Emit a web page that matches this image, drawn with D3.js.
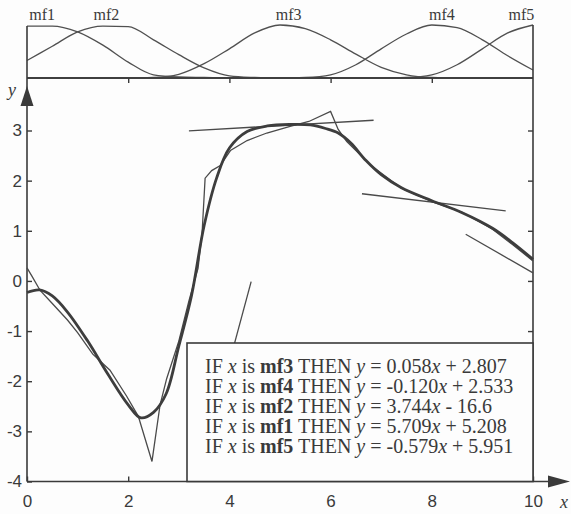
<!DOCTYPE html>
<html>
<head>
    <meta charset="UTF-8">
    <title></title>
    <script src="https://cdn.jsdelivr.net/npm/d3@7/dist/d3.min.js"></script>
    <style>
        body{
            padding: 0;
            margin: 0;
            background: #fdfdfd;
        }
        .axis path{
            display: none;
        }
        .axis line{
            stroke: #3a3a3a;
            stroke-width: 1.4px;
        }
        .axis text{
            font-family: "Liberation Sans", Arial, sans-serif;
            font-size: 17px;
            fill: #3a3a3a;
        }
        .frame{
            stroke: #3a3a3a;
            stroke-width: 1.6px;
            fill: none;
        }
    </style>
</head>
<body>
<div class="first"></div>

<script>

    // membership functions, read every 0.5 on x
    var mfX  = [0,0.5,1,1.5,2,2.5,3,3.5,4,4.5,5,5.5,6,6.5,7,7.5,8,8.5,9,9.5,10];
    var mf1  = [0.98,0.98,0.87,0.62,0.30,0.06,0.02,0.01,0,0,0,0,0,0,0,0,0,0,0,0,0];
    var mf2  = [0.33,0.60,0.87,0.98,0.97,0.72,0.44,0.19,0.04,0.01,0,0,0,0,0,0,0,0,0,0,0];
    var mf3  = [0,0,0,0,0,0.01,0.07,0.27,0.55,0.85,1.0,0.93,0.72,0.45,0.20,0.06,0.01,0,0,0,0];
    var mf4  = [0,0,0,0,0,0,0,0,0,0,0,0.01,0.06,0.25,0.55,0.83,1.0,0.95,0.72,0.42,0.15];
    var mf5  = [0,0,0,0,0,0,0,0,0,0,0,0,0,0,0,0.01,0.06,0.25,0.55,0.85,1.0];
    var mfNames = ["mf1","mf2","mf3","mf4","mf5"];
    var mfLabelX = [0.3,1.57,5.17,8.2,9.77];

    // fuzzy model output (thick)
    var fitX = [0,0.25,0.5,0.8,1.2,1.6,2.0,2.25,2.5,2.75,3.0,3.25,3.5,3.75,4.0,4.35,4.75,5.2,5.6,5.9,6.15,6.4,6.7,7.0,7.4,8.0,8.6,9.2,9.6,10];
    var fitY = [-0.23,-0.18,-0.3,-0.62,-1.2,-1.86,-2.47,-2.73,-2.62,-2.25,-1.3,-0.3,1.1,2.06,2.65,2.98,3.09,3.12,3.11,3.04,2.95,2.75,2.4,2.12,1.86,1.6,1.36,1.05,0.76,0.43];

    // original function (thin)
    var orgX = [0,0.1,0.26,0.5,0.8,1.0,1.3,1.64,1.97,2.2,2.47,2.63,2.76,3.0,3.2,3.38,3.46,3.52,3.65,3.82,4.02,4.35,4.74,5.2,5.57,6.0,6.15,6.32,6.5,6.8,7.4,8.0,8.6,9.2,9.6,10];
    var orgY = [0.26,0.09,-0.19,-0.45,-0.78,-1.03,-1.46,-1.78,-2.3,-2.7,-3.6,-2.47,-1.95,-1.2,-0.4,0.25,0.95,2.05,2.2,2.3,2.6,2.8,2.95,3.08,3.18,3.38,3.02,2.78,2.6,2.3,1.85,1.58,1.37,1.03,0.72,0.4];

    // rules: y = a*x + b, drawn between x0 and x1
    var ruleMf = ["mf3","mf4","mf2","mf1","mf5"];
    var ruleA  = [0.058,-0.120,3.744,5.709,-0.579];
    var ruleB  = [2.807,2.533,-16.6,5.208,5.951];
    var ruleX0 = [3.2,6.62,3.9,null,8.67];
    var ruleX1 = [6.85,9.46,4.43,null,10];

    var xTicks = [0,2,4,6,8,10];
    var yTicks = [-4,-3,-2,-1,0,1,2,3];

    var svg = d3.select(".first")
        .append("svg")
        .attr("width",571)
        .attr("height",514);

    var x = d3.scaleLinear().domain([0,10]).range([27,533]);
    var y = d3.scaleLinear().domain([-4,3]).range([481.5,130.5]);
    var m = d3.scaleLinear().domain([0,1]).range([78,25]);

    // top panel: membership functions
    var mfLine = d3.line()
        .x(function(d,i){ return x(mfX[i]); })
        .y(function(d){ return m(d); })
        .curve(d3.curveMonotoneX);

    svg.selectAll(".mf")
        .data([mf1,mf2,mf3,mf4,mf5])
        .enter()
        .append("path")
        .attr("class","mf")
        .attr("d",mfLine)
        .attr("fill","none")
        .attr("stroke","#505050")
        .attr("stroke-width",1.3);

    svg.selectAll(".mfLabel")
        .data(mfNames)
        .enter()
        .append("text")
        .attr("class","mfLabel")
        .attr("x",function(d,i){ return x(mfLabelX[i]); })
        .attr("y",20)
        .attr("text-anchor","middle")
        .style("font-family","'Liberation Serif', serif")
        .style("font-size","16px")
        .style("fill","#3a3a3a")
        .text(function(d){ return d; });

    // frame lines
    svg.append("line").attr("class","frame")
        .attr("x1",x(0)).attr("x2",x(0)).attr("y1",m(0.98)).attr("y2",y(-4));
    svg.append("line").attr("class","frame")
        .attr("x1",x(10)).attr("x2",x(10)).attr("y1",m(1)).attr("y2",y(-4));
    svg.append("line").attr("class","frame")
        .attr("x1",x(0)).attr("x2",x(10)).attr("y1",m(0)).attr("y2",m(0));
    svg.append("line").attr("class","frame")
        .attr("x1",x(0)).attr("x2",548).attr("y1",y(-4)).attr("y2",y(-4));

    // arrows
    svg.append("path")
        .attr("d","M"+x(0)+",86 L"+(x(0)-6.5)+",106 L"+(x(0)+6.5)+",106 Z")
        .attr("fill","#3a3a3a");
    svg.append("path")
        .attr("d","M570,"+y(-4)+" L548,"+(y(-4)-6)+" L548,"+(y(-4)+6)+" Z")
        .attr("fill","#3a3a3a");

    svg.append("text")
        .attr("x",12).attr("y",96)
        .attr("text-anchor","middle")
        .style("font-family","'Liberation Serif', serif")
        .style("font-style","italic")
        .style("font-size","18px")
        .style("fill","#3a3a3a")
        .text("y");
    svg.append("text")
        .attr("x",564).attr("y",508)
        .attr("text-anchor","middle")
        .style("font-family","'Liberation Serif', serif")
        .style("font-style","italic")
        .style("font-size","18px")
        .style("fill","#3a3a3a")
        .text("x");

    // axes, ticks pointing inward
    var plain = function(d){ return String(d); };

    svg.append("g")
        .attr("class","axis")
        .attr("transform","translate(0,"+y(-4)+")")
        .call(d3.axisBottom(x).tickValues(xTicks).tickFormat(plain)
            .tickSizeInner(-5).tickSizeOuter(0).tickPadding(13));

    svg.append("g")
        .attr("class","axis")
        .attr("transform","translate("+x(0)+",0)")
        .call(d3.axisLeft(y).tickValues(yTicks).tickFormat(plain)
            .tickSizeInner(-5).tickSizeOuter(0).tickPadding(5));

    svg.append("g")
        .attr("class","axis")
        .attr("transform","translate(0,"+m(0)+")")
        .call(d3.axisBottom(x).tickValues([2,4,6,8]).tickSize(5).tickFormat(""));

    svg.append("g")
        .attr("class","axis")
        .attr("transform","translate("+x(10)+",0)")
        .call(d3.axisLeft(y).tickValues([-3,-2,-1,0,1,2,3]).tickSize(5).tickFormat(""));

    // local linear models
    var rules = ruleMf.map(function(d,i){
        return {mf:d, a:ruleA[i], b:ruleB[i], x0:ruleX0[i], x1:ruleX1[i]};
    });

    svg.selectAll(".rule")
        .data(rules.filter(function(d){ return d.x0 !== null; }))
        .enter()
        .append("line")
        .attr("class","rule")
        .attr("x1",function(d){ return x(d.x0); })
        .attr("y1",function(d){ return y(d.a*d.x0+d.b); })
        .attr("x2",function(d){ return x(d.x1); })
        .attr("y2",function(d){ return y(d.a*d.x1+d.b); })
        .attr("stroke","#4a4a4a")
        .attr("stroke-width",1.3);

    // original function
    svg.append("path")
        .datum(orgY)
        .attr("d",d3.line()
            .x(function(d,i){ return x(orgX[i]); })
            .y(function(d){ return y(d); }))
        .attr("fill","none")
        .attr("stroke","#4a4a4a")
        .attr("stroke-width",1.3);

    // fuzzy model output
    svg.append("path")
        .datum(fitY)
        .attr("d",d3.line()
            .x(function(d,i){ return x(fitX[i]); })
            .y(function(d){ return y(d); })
            .curve(d3.curveCatmullRom))
        .attr("fill","none")
        .attr("stroke","#3d3d3d")
        .attr("stroke-width",2.8);

    // rule box
    svg.append("rect")
        .attr("x",187)
        .attr("y",343)
        .attr("width",x(10)-187)
        .attr("height",y(-4)-343)
        .attr("fill","#fdfdfd")
        .attr("stroke","#3a3a3a")
        .attr("stroke-width",1.6);

    var ruleText = svg.selectAll(".ruleText")
        .data(rules)
        .enter()
        .append("text")
        .attr("class","ruleText")
        .attr("x",205)
        .attr("y",function(d,i){ return 373+i*20; })
        .style("font-family","'Liberation Serif', serif")
        .style("font-size","20px")
        .style("fill","#3a3a3a");

    ruleText.append("tspan").text("IF ");
    ruleText.append("tspan").style("font-style","italic").text("x");
    ruleText.append("tspan").text(" is ");
    ruleText.append("tspan").style("font-weight","bold").text(function(d){ return d.mf; });
    ruleText.append("tspan").text(" THEN ");
    ruleText.append("tspan").style("font-style","italic").text("y");
    ruleText.append("tspan").text(function(d){ return " = "+d.a.toFixed(3); });
    ruleText.append("tspan").style("font-style","italic").text("x");
    ruleText.append("tspan").text(function(d){
        return (d.b<0 ? " - " : " + ")+Math.abs(d.b);
    });

</script>
</body>
</html>
